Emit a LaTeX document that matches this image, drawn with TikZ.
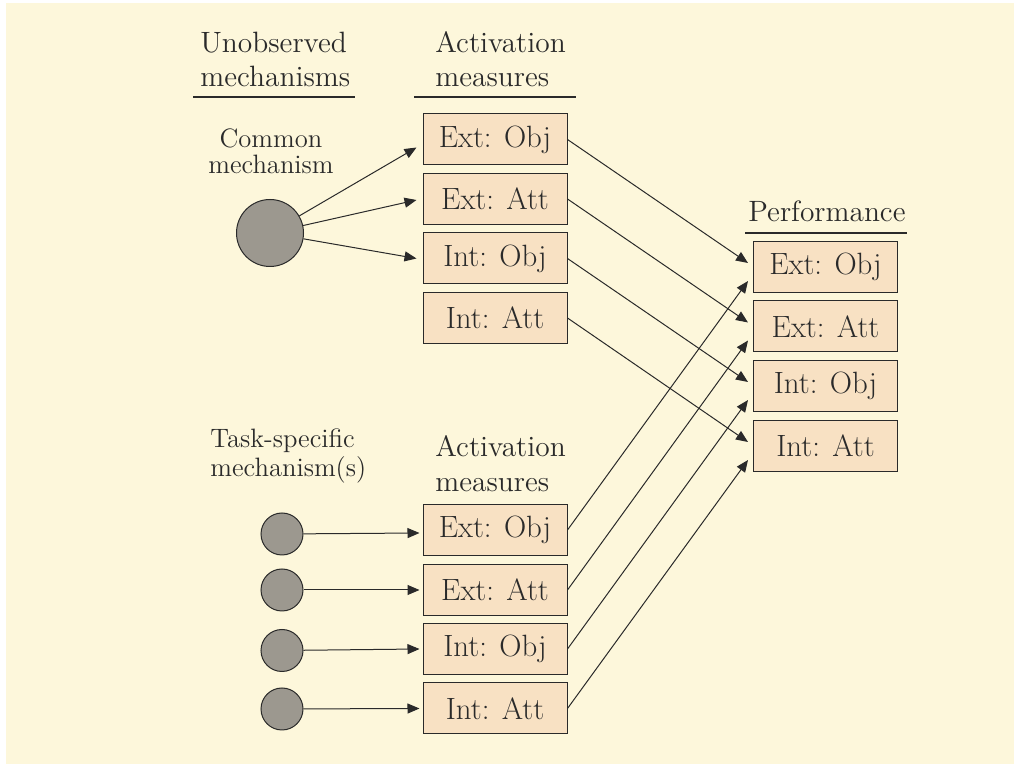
\documentclass[tikz,border=0pt]{standalone}
\usetikzlibrary{arrows.meta,calc}
\definecolor{bgY}{HTML}{FDF7DB}
\definecolor{boxF}{HTML}{F8E1C3}
\definecolor{circF}{HTML}{9C988F}
\definecolor{ink}{HTML}{2A2A2A}
\begin{document}
\begin{tikzpicture}[x=0.5pt,y=-0.5pt,
  meas/.style={draw=ink,fill=boxF,line width=0.5pt,minimum width=72pt,minimum height=25.5pt,inner sep=0pt,text=ink,font=\fontsize{15.4}{17}\selectfont},
  bigc/.style={circle,draw=ink,fill=circF,line width=0.5pt,minimum size=33.5pt,inner sep=0pt},
  smallc/.style={circle,draw=ink,fill=circF,line width=0.5pt,minimum size=21pt,inner sep=0pt},
  arr/.style={draw=ink,line width=0.5pt,-{Triangle[length=6pt,width=5pt]}},
  hd/.style={anchor=base west,inner sep=0pt,text=ink},
  rulel/.style={draw=ink,line width=0.6pt}]
\fill[white] (0,0) rectangle (1014,764);
\fill[bgY] (6,3) rectangle (1014,764);
\useasboundingbox (0,0) rectangle (1014,764);

% headers
\node[hd,font=\fontsize{14.7}{16.8}\selectfont] (hU) at (200,53) {\begin{tabular}[t]{@{}l@{}}Unobserved\\mechanisms\end{tabular}};
\node[hd,font=\fontsize{14.7}{16.8}\selectfont] (hA) at (435,53) {\begin{tabular}[t]{@{}l@{}}Activation\\measures\end{tabular}};
\node[hd,font=\fontsize{14.7}{16.8}\selectfont] (hP) at (748,222) {Performance};
\node[hd,font=\fontsize{13.3}{12.5}\selectfont,anchor=base] (lC) at (271,148) {\begin{tabular}[t]{@{}c@{}}Common\\mechanism\end{tabular}};
\node[hd,font=\fontsize{13.3}{13.5}\selectfont] (lT) at (210,448) {\begin{tabular}[t]{@{}l@{}}Task-specific\\mechanism(s)\end{tabular}};
\node[hd,font=\fontsize{14.7}{17.5}\selectfont] (hA2) at (435,457) {\begin{tabular}[t]{@{}l@{}}Activation\\measures\end{tabular}};

\draw[rulel] (193,97) -- (355,97);
\draw[rulel] (414,97) -- (576,97);
\draw[rulel] (745,233) -- (907,233);

% activation boxes (top)
\node[meas] (a1) at (495,139.5) {Ext: Obj};
\node[meas] (a2) at (495,199) {Ext: Att};
\node[meas] (a3) at (495,258.5) {Int: Obj};
\node[meas] (a4) at (495,318) {Int: Att};
% activation boxes (bottom)
\node[meas] (b1) at (495,530) {Ext: Obj};
\node[meas] (b2) at (495,590) {Ext: Att};
\node[meas] (b3) at (495,649) {Int: Obj};
\node[meas] (b4) at (495,708.5) {Int: Att};
% performance
\node[meas] (p1) at (825.5,267) {Ext: Obj};
\node[meas] (p2) at (825.5,326.5) {Ext: Att};
\node[meas] (p3) at (825.5,386) {Int: Obj};
\node[meas] (p4) at (825.5,446) {Int: Att};

% mechanisms
\node[bigc] (C) at (270,233) {};
\node[smallc] (s1) at (282,534) {};
\node[smallc] (s2) at (282,590) {};
\node[smallc] (s3) at (282,650.5) {};
\node[smallc] (s4) at (282,709) {};

% arrows
\draw[arr] (C) -- ($(a1.west)+(-6,8)$);
\draw[arr] (C) -- ($(a2.west)+(-6,1)$);
\draw[arr] (C) -- ($(a3.west)+(-6,0)$);
\draw[arr] (s1) -- ($(b1.west)+(-3,3)$);
\draw[arr] (s2) -- ($(b2.west)+(-3,0)$);
\draw[arr] (s3) -- ($(b3.west)+(-3,0)$);
\draw[arr] (s4) -- ($(b4.west)+(-3,0)$);
\foreach \i in {1,2,3,4}{
  \draw[arr] (a\i.east) -- ($(p\i.west)+(-5,-4)$);
  \draw[arr] (b\i.east) -- ($(p\i.west)+(-5,14)$);
}
\end{tikzpicture}
\end{document}
